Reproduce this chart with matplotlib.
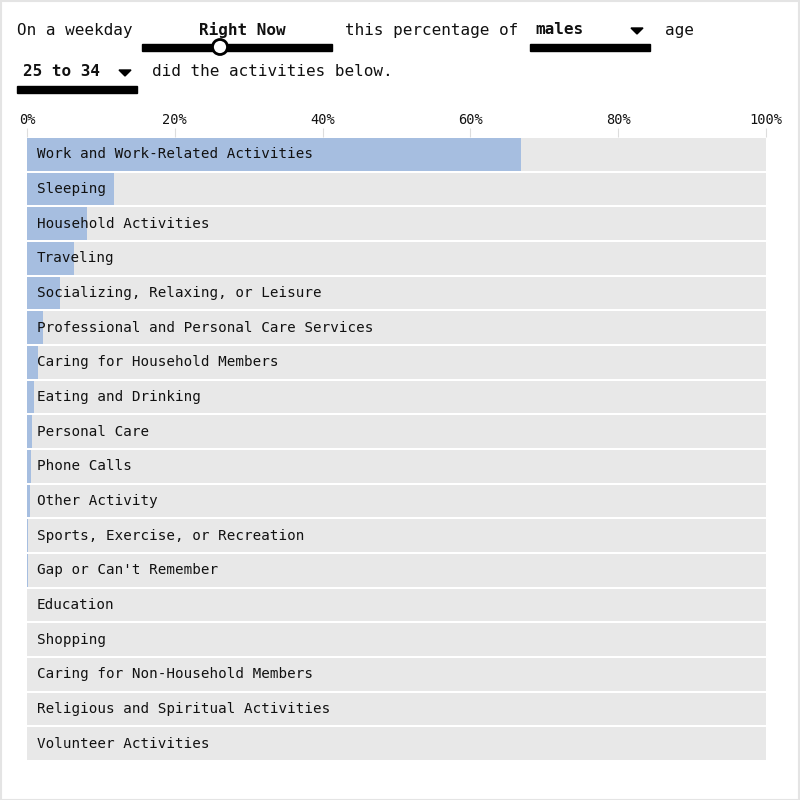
import numpy as np
import matplotlib.pyplot as plt
from matplotlib.patches import Circle, Rectangle, Polygon

activities = [
    "Work and Work-Related Activities",
    "Sleeping",
    "Household Activities",
    "Traveling",
    "Socializing, Relaxing, or Leisure",
    "Professional and Personal Care Services",
    "Caring for Household Members",
    "Eating and Drinking",
    "Personal Care",
    "Phone Calls",
    "Other Activity",
    "Sports, Exercise, or Recreation",
    "Gap or Can't Remember",
    "Education",
    "Shopping",
    "Caring for Non-Household Members",
    "Religious and Spiritual Activities",
    "Volunteer Activities",
]
percent = [66.8, 11.8, 8.1, 6.4, 4.5, 2.1, 1.5, 1.0, 0.7, 0.55, 0.4, 0.15, 0.1,
           0, 0, 0, 0, 0]
ticks = [0, 20, 40, 60, 80, 100]
tick_labels = ["0%", "20%", "40%", "60%", "80%", "100%"]

mono = "DejaVu Sans Mono"
W = 800

fig = plt.figure(figsize=(8, 8), dpi=100)
fig.patch.set_facecolor("white")

# outer frame
fig.patches.append(Rectangle((0.5 / W, 0.5 / W), 1 - 1.5 / W, 1 - 1.5 / W,
                             transform=fig.transFigure, fill=False,
                             edgecolor="#e4e4e4", lw=1.5))

# bar chart axes: x 27..766, y 137..761 px
ax = fig.add_axes([27 / W, 1 - 761 / W, (766 - 27) / W, (761 - 137) / W])
n = len(activities)
y = np.arange(n)
ax.barh(y, [100] * n, height=0.94, color="#e8e8e8", linewidth=0)
ax.barh(y, percent, height=0.94, color="#a6bee0", linewidth=0)
for i, name in enumerate(activities):
    ax.text(1.3, i, name, va="center", ha="left", fontsize=10.3,
            family=mono, color="#111111")
ax.set_xlim(0, 100)
ax.set_ylim(n - 0.5, -0.5)
ax.set_yticks([])
ax.xaxis.tick_top()
ax.set_xticks(ticks)
ax.set_xticklabels(tick_labels, family=mono, fontsize=9.8, color="#111111")
ax.tick_params(axis="x", length=6.5, width=0.8, color="#dddddd", pad=1)
for s in ax.spines.values():
    s.set_visible(False)

# header controls
def fx(px):
    return px / W


def fy(py):
    return 1 - py / W


txt = dict(family=mono, fontsize=11.5, va="center", color="#111111")
fig.text(fx(17), fy(30), "On a weekday", **txt)
fig.text(fx(242), fy(30), "Right Now", ha="center", weight="bold",
         family=mono, fontsize=11.5, va="center", color="#111111")
fig.text(fx(345), fy(30), "this percentage of", **txt)
fig.text(fx(535), fy(30), "males", weight="bold", **txt)
fig.text(fx(665), fy(30), "age", **txt)
fig.text(fx(23), fy(72), "25 to 34", weight="bold", **txt)
fig.text(fx(152), fy(72), "did the activities below.", **txt)

# slider and dropdown underlines
fig.patches.append(Rectangle((fx(142), fy(51)), fx(190), 7 / W,
                             transform=fig.transFigure, color="black"))
fig.patches.append(Circle((fx(220), fy(47)), 7.5 / W, transform=fig.transFigure,
                          facecolor="white", edgecolor="black", lw=2, zorder=5))
fig.patches.append(Rectangle((fx(530), fy(51)), fx(120), 7 / W,
                             transform=fig.transFigure, color="black"))
fig.patches.append(Rectangle((fx(17), fy(93)), fx(120), 7 / W,
                             transform=fig.transFigure, color="black"))
for cx, cy in [(637, 31), (125, 73)]:
    fig.patches.append(Polygon([(fx(cx - 6), fy(cy - 3)), (fx(cx + 6), fy(cy - 3)),
                                (fx(cx), fy(cy + 3))], closed=True,
                               transform=fig.transFigure, color="black"))

fig.savefig("out.png", dpi=100)
